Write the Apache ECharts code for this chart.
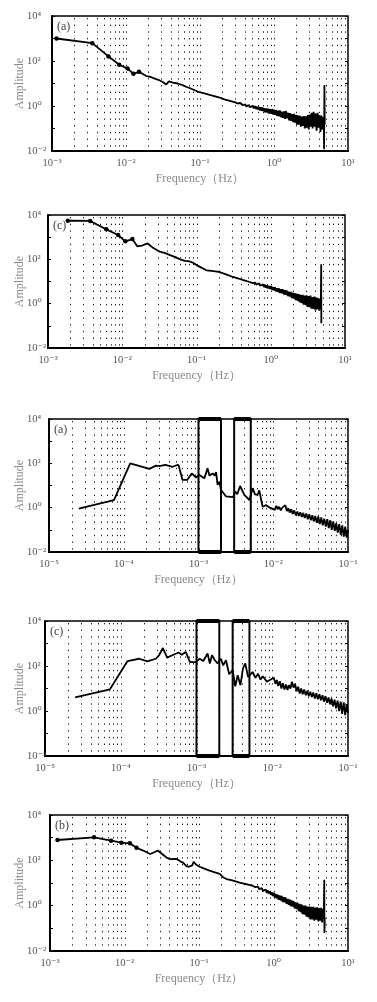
<!DOCTYPE html>
<html>
<head>
<meta charset="utf-8">
<script src="https://cdn.jsdelivr.net/npm/echarts@6/dist/echarts.min.js"></script>
<style>
html,body{margin:0;padding:0;background:#fff}
#chart{width:377px;height:1002px}
</style>
</head>
<body>
<div id="chart"></div>
<script>
// panel 1 "(a)"  10^-3 .. 10^1 Hz
const freqA1 = [0.00115, 0.0035, 0.0058, 0.0081, 0.0105, 0.0126, 0.015, 0.0185, 0.022, 0.025, 0.028, 0.031, 0.035, 0.038, 0.043, 0.05, 0.058, 0.066, 0.075, 0.085, 0.098, 0.115, 0.135, 0.16, 0.19, 0.22, 0.26, 0.3,
  0.31, 0.32, 0.33, 0.34, 0.35, 0.36, 0.37, 0.38, 0.39, 0.40, 0.41, 0.42, 0.43, 0.44, 0.46, 0.47, 0.49, 0.50, 0.52, 0.53,
  0.55, 0.57, 0.58, 0.60, 0.62, 0.64, 0.66, 0.68, 0.70, 0.72, 0.74, 0.76, 0.79, 0.81, 0.84, 0.86, 0.89, 0.92, 0.95, 0.98,
  1.01, 1.04, 1.07, 1.10, 1.14, 1.17, 1.21, 1.25, 1.29, 1.33, 1.37, 1.41, 1.45, 1.50, 1.55, 1.60, 1.65, 1.70, 1.75, 1.80,
  1.86, 1.92, 1.98, 2.04, 2.10, 2.17, 2.24, 2.31, 2.38, 2.45, 2.53, 2.61, 2.69, 2.77, 2.86, 2.95, 3.04, 3.13, 3.23, 3.33,
  3.43, 3.54, 3.65, 3.76, 3.88, 4.0, 4.12, 4.25, 4.38, 4.5, 4.62, 4.72, 4.75, 4.8, 4.85];
const ampA1 = [1000, 620, 160, 68, 46, 27, 33, 22, 19, 16, 14, 12, 9, 12.5, 11, 10, 8.5, 7, 6, 5, 4.1, 3.6, 3.1, 2.7, 2.3, 1.9, 1.65, 1.45,
  1.5, 1.3, 1.42, 1.22, 1.36, 1.15, 1.3, 1.08, 1.25, 1.02, 1.2, 0.97, 1.14, 0.93, 1.1, 0.88, 1.05, 0.82, 1.02, 0.78,
  0.98, 0.74, 0.95, 0.7, 0.92, 0.64, 0.88, 0.62, 0.86, 0.58, 0.8, 0.52, 0.78, 0.52, 0.76, 0.46, 0.72, 0.45, 0.74, 0.41,
  0.68, 0.4, 0.66, 0.36, 0.62, 0.35, 0.63, 0.31, 0.56, 0.3, 0.58, 0.27, 0.6, 0.28, 0.5, 0.23, 0.48, 0.22, 0.44, 0.19,
  0.45, 0.18, 0.4, 0.15, 0.38, 0.15, 0.37, 0.12, 0.34, 0.13, 0.36, 0.1, 0.35, 0.11, 0.4, 0.09, 0.42, 0.12, 0.5, 0.1,
  0.55, 0.12, 0.46, 0.08, 0.5, 0.11, 0.4, 0.07, 0.38, 0.09, 0.32, 0.1, 0.012, 8.5, 0.15];

// panel 2 "(c)"
const freqC1 = [0.00185, 0.0037, 0.0061, 0.0088, 0.011, 0.0137, 0.016, 0.0185, 0.022, 0.026, 0.032, 0.038, 0.044, 0.052, 0.06, 0.07, 0.081, 0.09, 0.1, 0.12, 0.136, 0.16, 0.2, 0.25, 0.31, 0.38, 0.45, 0.52,
  0.55, 0.57, 0.58, 0.60, 0.62, 0.64, 0.66, 0.68, 0.70, 0.72, 0.74, 0.76, 0.79, 0.81, 0.84, 0.86, 0.89, 0.92, 0.95, 0.98,
  1.01, 1.04, 1.07, 1.10, 1.14, 1.17, 1.21, 1.25, 1.29, 1.33, 1.37, 1.41, 1.45, 1.50, 1.55, 1.60, 1.65, 1.70, 1.75, 1.80,
  1.86, 1.92, 1.98, 2.04, 2.10, 2.17, 2.24, 2.31, 2.38, 2.45, 2.53, 2.61, 2.69, 2.77, 2.86, 2.95, 3.04, 3.13, 3.23, 3.33,
  3.43, 3.54, 3.65, 3.76, 3.88, 4.0, 4.12, 4.25, 4.38, 4.5, 4.62, 4.72, 4.78, 4.8];
const ampC1 = [5500, 5400, 2250, 1250, 650, 820, 380, 420, 520, 330, 220, 190, 155, 125, 100, 85, 80, 70, 55, 40, 32, 30, 27, 21, 16, 13, 11, 9.5,
  10.2, 8.4, 9.6, 7.8, 9.0, 7.2, 8.6, 6.8, 8.2, 6.4, 7.8, 6.0, 7.4, 5.6, 7.0, 5.2, 6.6, 4.9, 6.3, 4.6,
  6.2, 4.2, 5.6, 4.0, 5.5, 3.6, 5.0, 3.4, 4.9, 3.0, 4.5, 2.9, 4.5, 2.6, 4.0, 2.5, 3.9, 2.2, 3.5, 2.1,
  3.4, 1.8, 3.1, 1.7, 3.0, 1.45, 2.8, 1.35, 2.7, 1.15, 2.5, 1.05, 2.5, 0.9, 2.3, 0.85, 2.4, 0.72, 2.2, 0.7,
  2.3, 0.6, 2.0, 0.58, 2.1, 0.5, 1.9, 0.56, 1.8, 0.48, 1.6, 0.6, 60, 0.13];

// panel 3 "(a)"  10^-5 .. 10^-1 Hz
const freqA2 = [2.5e-5, 7.4e-5, 1.22e-4, 2.2e-4, 2.7e-4, 3.0e-4, 3.6e-4, 4.5e-4, 5.0e-4, 5.4e-4, 6.1e-4, 7.1e-4, 8.1e-4, 9.3e-4, 1.02e-3, 1.2e-3, 1.32e-3, 1.4e-3, 1.55e-3, 1.65e-3, 1.72e-3, 1.8e-3, 1.9e-3, 2.0e-3, 2.34e-3, 2.9e-3, 3.1e-3, 3.3e-3, 3.6e-3, 4.1e-3, 4.4e-3, 4.8e-3, 5.3e-3, 5.7e-3, 6.2e-3, 6.5e-3, 7.2e-3, 8e-3, 9e-3,
  0.0105, 0.011, 0.0115, 0.012, 0.0126, 0.0132, 0.0138, 0.0145, 0.0152, 0.0159, 0.0166, 0.0174, 0.0182, 0.0191, 0.02, 0.021, 0.022, 0.023, 0.0241, 0.0252,
  0.0264, 0.0277, 0.029, 0.0303, 0.0318, 0.0333, 0.0348, 0.0365, 0.0382, 0.04, 0.0419, 0.0439, 0.046, 0.0481, 0.0504, 0.0528, 0.0553, 0.0579, 0.0606, 0.0635,
  0.0665, 0.0696, 0.0729, 0.0763, 0.08, 0.0837, 0.0877, 0.0918, 0.0961, 0.1];
const ampA2 = [0.9, 2.2, 100, 56, 79, 75, 85, 70, 80, 85, 18, 18, 35, 23, 30, 21, 60, 28, 35, 28, 40, 10.7, 15, 6.3, 3.2, 3.0, 5.3, 4.0, 9.5, 3.8, 3.0, 2.2, 7.6, 4, 3.8, 6, 1.1, 1.3, 1.0,
  0.8, 1.2, 0.85, 1.1, 0.75, 1.0, 0.85, 1.3, 0.7, 0.95, 0.6, 0.85, 0.52, 0.75, 0.45, 0.66, 0.42, 0.62, 0.38, 0.58,
  0.34, 0.55, 0.3, 0.5, 0.27, 0.46, 0.24, 0.42, 0.21, 0.4, 0.18, 0.36, 0.16, 0.32, 0.14, 0.3, 0.12, 0.27, 0.1, 0.24,
  0.09, 0.2, 0.075, 0.18, 0.06, 0.16, 0.05, 0.14, 0.045, 0.1];

// panel 4 "(c)"
const freqC2 = [2.5e-5, 7.2e-5, 1.23e-4, 1.75e-4, 2.25e-4, 2.9e-4, 3.2e-4, 3.6e-4, 4.1e-4, 4.8e-4, 5.8e-4, 6.4e-4, 7.2e-4, 8.2e-4, 9.8e-4, 1.1e-3, 1.23e-3, 1.4e-3, 1.5e-3, 1.6e-3, 1.75e-3, 1.9e-3, 2.1e-3, 2.25e-3, 2.45e-3, 2.7e-3, 3.0e-3, 3.25e-3, 3.5e-3, 3.8e-3, 4.1e-3, 4.4e-3, 4.8e-3, 5.5e-3, 6.0e-3, 6.5e-3, 7e-3, 7.5e-3, 8.5e-3,
  0.0105, 0.011, 0.0115, 0.012, 0.0126, 0.0132, 0.0138, 0.0145, 0.0152, 0.0159, 0.0166, 0.0174, 0.0182, 0.0191, 0.02, 0.021, 0.022, 0.023, 0.0241, 0.0252,
  0.0264, 0.0277, 0.029, 0.0303, 0.0318, 0.0333, 0.0348, 0.0365, 0.0382, 0.04, 0.0419, 0.0439, 0.046, 0.0481, 0.0504, 0.0528, 0.0553, 0.0579, 0.0606, 0.0635,
  0.0665, 0.0696, 0.0729, 0.0763, 0.08, 0.0837, 0.0877, 0.0918, 0.0961, 0.1];
const ampC2 = [4, 9.2, 166, 210, 160, 210, 300, 630, 235, 300, 400, 320, 420, 150, 150, 210, 166, 360, 130, 300, 180, 130, 210, 107, 180, 43, 65, 12.6, 39, 14, 76, 130, 32, 54, 30, 45, 25, 35, 20,
  30, 16, 24, 13, 21, 10, 17, 9, 15, 8.5, 14, 10, 20, 11, 16, 7.5, 12, 6, 10, 5.5,
  9, 5, 8, 4.6, 7.2, 4.2, 6.6, 3.6, 6.2, 3.3, 5.6, 3.0, 5.0, 2.6, 4.6, 2.3, 4.0, 2.0, 3.6, 1.6,
  3.2, 1.3, 2.9, 1.0, 2.6, 0.75, 2.4, 0.65, 2.0, 0.8];

// panel 5 "(b)"
const freqB1 = [0.00126, 0.0039, 0.0066, 0.0091, 0.0118, 0.0145, 0.0178, 0.022, 0.026, 0.028, 0.032, 0.037, 0.041, 0.05, 0.056, 0.061, 0.068, 0.073, 0.081, 0.085, 0.091, 0.102, 0.12, 0.139, 0.16, 0.19, 0.21, 0.234, 0.28, 0.35, 0.43, 0.53,
  0.55, 0.57, 0.58, 0.60, 0.62, 0.64, 0.66, 0.68, 0.70, 0.72, 0.74, 0.76, 0.79, 0.81, 0.84, 0.86, 0.89, 0.92, 0.95, 0.98,
  1.01, 1.04, 1.07, 1.10, 1.14, 1.17, 1.21, 1.25, 1.29, 1.33, 1.37, 1.41, 1.45, 1.50, 1.55, 1.60, 1.65, 1.70, 1.75, 1.80,
  1.86, 1.92, 1.98, 2.04, 2.10, 2.17, 2.24, 2.31, 2.38, 2.45, 2.53, 2.61, 2.69, 2.77, 2.86, 2.95, 3.04, 3.13, 3.23, 3.33,
  3.43, 3.54, 3.65, 3.76, 3.88, 4.0, 4.12, 4.25, 4.38, 4.5, 4.62, 4.72, 4.8, 4.83, 4.88];
const ampB1 = [790, 1040, 740, 600, 560, 360, 270, 190, 240, 270, 190, 130, 112, 115, 90, 79, 55, 52, 60, 87, 65, 52, 42, 35, 30, 25, 18, 15, 13, 10.5, 9, 7.4,
  8.2, 6.6, 7.6, 6.0, 7.0, 5.4, 6.4, 4.9, 5.9, 4.5, 5.5, 4.1, 5.1, 3.7, 4.7, 3.4, 4.3, 3.0, 3.9, 2.7,
  3.7, 2.3, 3.3, 2.1, 3.1, 1.8, 2.8, 1.7, 2.7, 1.45, 2.4, 1.4, 2.3, 1.2, 2.0, 1.1, 1.9, 0.95, 1.7, 0.9,
  1.6, 0.75, 1.4, 0.7, 1.35, 0.58, 1.2, 0.52, 1.15, 0.42, 1.0, 0.4, 1.0, 0.33, 0.9, 0.3, 0.92, 0.25, 0.9, 0.25,
  0.88, 0.22, 0.82, 0.24, 0.85, 0.2, 0.78, 0.22, 0.8, 0.18, 0.7, 0.25, 14, 0.063, 0.3];

const panelLabels = ['(a)', '(c)', '(a)', '(c)', '(b)'];
const xRangeFull = [0.001, 10];
const xRangeLow = [0.00001, 0.1];
const yRange = [0.01, 10000];
const bandBoxes = [[0.001, 0.002], [0.003, 0.005]];

const panels = [
  {freq: freqA1, amp: ampA1, x: xRangeFull, dots: 7, boxes: false},
  {freq: freqC1, amp: ampC1, x: xRangeFull, dots: 6, boxes: false},
  {freq: freqA2, amp: ampA2, x: xRangeLow, dots: 0, boxes: true},
  {freq: freqC2, amp: ampC2, x: xRangeLow, dots: 0, boxes: true},
  {freq: freqB1, amp: ampB1, x: xRangeFull, dots: 6, boxes: false}
];

const layout = [
  {left: 52, top: 16, width: 296, height: 135},
  {left: 48, top: 215, width: 297, height: 133},
  {left: 49, top: 419, width: 299, height: 133},
  {left: 45, top: 621, width: 303, height: 135},
  {left: 50, top: 815, width: 298, height: 136}
];
const labelLeftX = 27;   // y tick labels are left aligned here
const nameRightX = 26;   // right edge of the rotated "Amplitude"

const serif = "'Liberation Serif', 'DejaVu Serif', serif";
const supMap = {'-': '\u207B', '0': '\u2070', '1': '\u00B9', '2': '\u00B2', '3': '\u00B3', '4': '\u2074', '5': '\u2075'};
function powLabel(v, evenOnly) {
  const e = Math.round(Math.log10(v));
  if (evenOnly && e % 2 !== 0) return '';
  return '10' + String(e).split('').map(c => supMap[c]).join('');
}

// dotted grid positions (1..9 x 10^k) inside the x range
function gridValues(lo, hi) {
  const out = [];
  for (let e = Math.round(Math.log10(lo)); e < Math.round(Math.log10(hi)); e++) {
    for (let m = 1; m <= 9; m++) {
      const v = +(m * Math.pow(10, e)).toPrecision(3);
      if (v > lo * 1.001 && v < hi * 0.999) out.push(v);
    }
  }
  return out;
}

const grids = [], xAxes = [], yAxes = [], series = [], titles = [];
panels.forEach((p, i) => {
  const L = layout[i];
  const yi = 2 * i;
  grids.push({left: L.left, top: L.top, width: L.width, height: L.height,
    containLabel: false, outerBoundsMode: 'none',
    show: true, borderColor: '#000', borderWidth: 1.5, backgroundColor: 'transparent'});
  xAxes.push({
    type: 'log', logBase: 10, gridIndex: i, min: p.x[0], max: p.x[1],
    name: 'Frequency\uFF08Hz\uFF09', nameLocation: 'middle', nameGap: 22, nameMoveOverlap: false,
    nameTextStyle: {color: '#8a8a8a', fontSize: 12, fontFamily: serif},
    axisLine: {show: true, onZero: false, lineStyle: {color: '#000', width: 2}},
    axisTick: {show: false},
    axisLabel: {color: '#555', fontSize: 10.5, fontFamily: serif, margin: 7,
      formatter: v => powLabel(v, false)},
    splitLine: {show: false}
  });
  yAxes.push({
    type: 'log', logBase: 10, gridIndex: i, min: yRange[0], max: yRange[1],
    name: 'Amplitude', nameLocation: 'middle', nameGap: L.left - nameRightX, nameMoveOverlap: false,
    nameTextStyle: {color: '#8a8a8a', fontSize: 12, fontFamily: serif},
    axisLine: {show: true, onZero: false, lineStyle: {color: '#000', width: 2}},
    axisTick: {show: true, inside: true, length: 3, lineStyle: {color: '#000'}},
    axisLabel: {color: '#555', fontSize: 10.5, fontFamily: serif, margin: L.left - labelLeftX, align: 'left',
      formatter: v => powLabel(v, true)},
    splitLine: {show: false}
  });
  // right frame ticks
  yAxes.push({
    type: 'log', logBase: 10, gridIndex: i, min: yRange[0], max: yRange[1], position: 'right',
    axisLine: {show: false},
    axisTick: {show: true, inside: true, length: 3, lineStyle: {color: '#000'}},
    axisLabel: {show: false},
    splitLine: {show: false}
  });
  titles.push({text: panelLabels[i], left: L.left + 5, top: L.top + 5, padding: 0, z: 10,
    textStyle: {fontSize: 12, fontWeight: 'normal', color: '#444', fontFamily: serif}});

  // dotted vertical grid
  series.push({
    type: 'custom', xAxisIndex: i, yAxisIndex: yi, silent: true, z: 1,
    data: gridValues(p.x[0], p.x[1]).map(v => [v, yRange[0]]),
    encode: {x: 0, y: 1},
    renderItem: (params, api) => {
      const top = api.coord([api.value(0), yRange[1]]);
      const bot = api.coord([api.value(0), yRange[0]]);
      const x = Math.round(top[0]) + 0.5;
      return {type: 'line', shape: {x1: x, y1: top[1] + 2, x2: x, y2: bot[1]},
        style: {stroke: '#111', lineWidth: 1, lineDash: [1.3, 5.4]}};
    }
  });
  if (p.boxes) {
    const edges = [];
    bandBoxes.forEach(b => {
      edges.push([{coord: [b[0], yRange[1]]}, {coord: [b[1], yRange[1]]}]);
      edges.push([{coord: [b[0], yRange[0]]}, {coord: [b[1], yRange[0]]}]);
    });
    series.push({
      type: 'line', xAxisIndex: i, yAxisIndex: yi, data: [], silent: true, z: 4,
      markArea: {
        silent: true, animation: false,
        itemStyle: {color: 'rgba(0,0,0,0)', borderColor: '#000', borderWidth: 2},
        data: bandBoxes.map(b => [{xAxis: b[0], yAxis: yRange[0]}, {xAxis: b[1], yAxis: yRange[1]}])
      },
      markLine: {symbol: 'none', silent: true, animation: false, label: {show: false},
        lineStyle: {color: '#000', width: 4, type: 'solid'}, data: edges}
    });
  }
  series.push({
    type: 'line', xAxisIndex: i, yAxisIndex: yi, z: 3,
    data: p.freq.map((f, j) => [f, p.amp[j]]),
    symbol: 'circle', showSymbol: true, showAllSymbol: true,
    symbolSize: (v, params) => params.dataIndex < p.dots ? 4.5 : 0,
    lineStyle: {color: '#000', width: 1.8},
    itemStyle: {color: '#000'},
    animation: false
  });
});

const myChart = echarts.init(document.getElementById('chart'));
myChart.setOption({
  backgroundColor: '#fff',
  animation: false,
  title: titles,
  grid: grids,
  xAxis: xAxes,
  yAxis: yAxes,
  series: series
});
</script>
</body>
</html>
